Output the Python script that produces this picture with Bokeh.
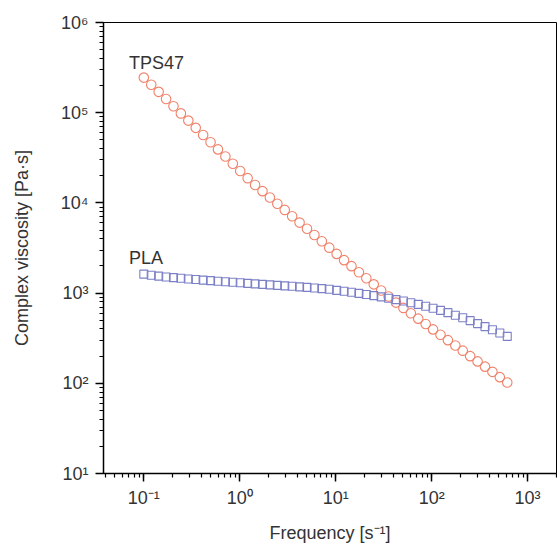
from bokeh.plotting import figure
from bokeh.models import LogTicker, CustomJSTickFormatter, Label
from bokeh.embed import file_html
from bokeh.resources import INLINE

# Frequency [1/s]
freq = [0.100, 0.1195, 0.1428, 0.1706, 0.2038, 0.2434, 0.2909, 0.3475, 0.4152, 0.4961,
        0.5929, 0.7083, 0.8464, 1.011, 1.208, 1.444, 1.725, 2.061, 2.463, 2.943,
        3.516, 4.201, 5.020, 5.998, 7.166, 8.562, 10.23, 12.22, 14.60, 17.45,
        20.85, 24.91, 29.76, 35.56, 42.49, 50.77, 60.66, 72.47, 86.59, 103.4,
        123.6, 147.7, 176.5, 210.8, 251.9, 301.0, 359.6, 429.7, 513.4, 613.4]

# Complex viscosity [Pa s]
tps47 = [245000, 204200, 170200, 141600, 117800, 98200, 81700, 67900, 56600, 47100,
         39200, 32700, 27200, 22600, 18800, 15800, 13500, 11500, 9790, 8360,
         7110, 6050, 5160, 4400, 3750, 3190, 2720, 2320, 1990, 1700,
         1460, 1250, 1070, 916, 785, 685, 597, 521, 454, 396,
         345, 301, 262, 230, 200, 175, 153, 134, 117, 102]

pla = [1622, 1578, 1542, 1510, 1483, 1459, 1435, 1413, 1393, 1374,
       1355, 1337, 1318, 1300, 1282, 1265, 1250, 1233, 1219, 1202,
       1189, 1172, 1156, 1140, 1122, 1104, 1072, 1047, 1021, 993,
       966, 938, 908, 877, 847, 817, 783, 750, 714, 679,
       643, 607, 569, 532, 495, 459, 425, 392, 361, 331]

FONT = "Liberation Sans"
TXT = "#333333"

p = figure(width=557, height=545, x_axis_type="log", y_axis_type="log",
           x_range=(0.038, 2000), y_range=(10, 1e6),
           output_backend="svg", toolbar_location=None,
           min_border_left=103, min_border_right=1, min_border_top=22, min_border_bottom=69)

p.grid.visible = False
p.outline_line_color = "black"
p.outline_line_width = 1
p.background_fill_color = "white"
p.border_fill_color = "white"

p.xaxis.ticker = LogTicker(mantissas=[1], desired_num_ticks=6, num_minor_ticks=10)
p.yaxis.ticker = LogTicker(mantissas=[1], desired_num_ticks=6, num_minor_ticks=10)

fmt = CustomJSTickFormatter(code="""
const sup = {'-':'\u207b','0':'\u2070','1':'\u00b9','2':'\u00b2','3':'\u00b3','4':'\u2074','5':'\u2075','6':'\u2076','7':'\u2077','8':'\u2078','9':'\u2079'};
const e = Math.round(Math.log10(tick));
return '10' + String(e).split('').map(c => sup[c]).join('');
""")
p.xaxis.formatter = fmt
p.yaxis.formatter = fmt

for ax in (p.xaxis, p.yaxis):
    ax.axis_line_color = "black"
    ax.axis_line_width = 1.5
    ax.major_tick_line_color = "black"
    ax.major_tick_line_width = 1.5
    ax.minor_tick_line_color = "black"
    ax.minor_tick_line_width = 1.2
    ax.major_tick_in = 0
    ax.major_tick_out = 8
    ax.minor_tick_in = 0
    ax.minor_tick_out = 4
    ax.major_label_text_font = FONT
    ax.major_label_text_font_size = "18px"
    ax.major_label_text_color = TXT
    ax.axis_label_text_font = FONT
    ax.axis_label_text_font_size = "18px"
    ax.axis_label_text_font_style = "normal"
    ax.axis_label_text_color = TXT

p.xaxis.axis_label = "Frequency [s\u207b\u00b9]"
p.yaxis.axis_label = "Complex viscosity [Pa\u00b7s]"
p.xaxis.major_label_standoff = 6
p.yaxis.major_label_standoff = 7
p.xaxis.axis_label_standoff = 12
p.yaxis.axis_label_standoff = 26

p.scatter(freq, tps47, marker="circle", size=9.5, fill_color=None,
          line_color="#F0826A", line_width=1.1)
p.scatter(freq, pla, marker="square", size=8, fill_color=None,
          line_color="#7C80C6", line_width=1.1)

p.add_layout(Label(x=0.07, y=3.6e5, text="TPS47", text_font=FONT, text_font_size="18px",
                   text_color=TXT, text_baseline="alphabetic"))
p.add_layout(Label(x=0.07, y=2450, text="PLA", text_font=FONT, text_font_size="18px",
                   text_color=TXT, text_baseline="alphabetic"))

open("out.html", "w").write(file_html(p, INLINE))
